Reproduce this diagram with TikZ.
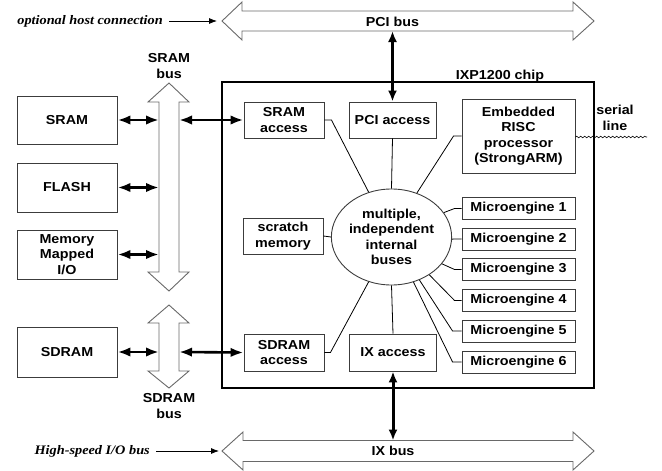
\documentclass[tikz,border=0pt]{standalone}
\usepackage{fontspec}
\setmainfont{Liberation Sans}[FakeStretch=1.1]
\newfontfamily\myserif{Liberation Serif}[FakeStretch=1.1]
\usetikzlibrary{arrows.meta,shapes.geometric,decorations.pathmorphing}
\definecolor{boxgray}{RGB}{60,60,60}
\definecolor{busgray}{RGB}{105,105,105}
\newcommand\mylbl{\fontsize{13}{15.5}\selectfont\bfseries}
\newcommand\myital{\fontsize{13}{15}\selectfont\myserif\bfseries\itshape}
\tikzset{
  box/.style={draw=boxgray, line width=0.9pt, inner sep=0pt, align=center, font=\mylbl},
  mebox/.style={box, minimum width=113pt, minimum height=22pt},
  lbl/.style={inner sep=0pt, align=center, font=\mylbl},
  hollow/.style={draw=busgray, line width=0.9pt, fill=white, line join=miter},
  thick2/.style={line width=3pt, {Latex[length=11pt,width=9pt]}-{Latex[length=11pt,width=9pt]}},
  memarrow/.style={line width=2.6pt, {Latex[length=13pt,width=9.5pt]}-{Latex[length=13pt,width=9.5pt]}},
  thinarrow/.style={line width=0.8pt, -{Latex[length=8pt,width=6pt]}},
  wire/.style={line width=0.8pt, black},
}
\begin{document}
\begin{tikzpicture}[x=1pt,y=-1pt]
\useasboundingbox (0,0) rectangle (662,471);

% chip
\node[draw, line width=2pt, minimum width=372pt, minimum height=306pt, inner sep=0pt] (chip) at (408,235) {};
\node[lbl, anchor=base] (chiplbl) at (500,79) {IXP1200 chip};

% hollow buses
\draw[hollow] (222,21) -- (242,2) -- (242,11) -- (573,11) -- (573,2) -- (594,21) -- (573,40) -- (573,31) -- (242,31) -- (242,40) -- cycle;
\node[lbl] (pcibus) at (392.5,22) {PCI bus};
\draw[hollow] (222,451) -- (243,432) -- (243,440.5) -- (573,440.5) -- (573,432) -- (594,451) -- (573,470) -- (573,461.5) -- (243,461.5) -- (243,470) -- cycle;
\node[lbl] (ixbus) at (393,451) {IX bus};
\draw[hollow] (169,83) -- (189,102) -- (179,102) -- (179,272) -- (189,272) -- (169,291) -- (148,272) -- (159,272) -- (159,102) -- (148,102) -- cycle;
\node[lbl] (srambus) at (169,66) {SRAM\\bus};
\draw[hollow] (169,305) -- (189,323) -- (179,323) -- (179,371) -- (189,371) -- (169,388) -- (148,371) -- (159,371) -- (159,323) -- (148,323) -- cycle;
\node[lbl] (sdrambus) at (169,406) {SDRAM\\bus};

% external memories
\node[box, minimum width=100pt, minimum height=48pt] (sram) at (67,120) {SRAM};
\node[box, minimum width=100pt, minimum height=49pt] (flash) at (67,187.5) {FLASH};
\node[box, minimum width=100pt, minimum height=49pt] (mmio) at (67,254.5) {Memory\\Mapped\\I/O};
\node[box, minimum width=100pt, minimum height=50pt] (sdram) at (67,352) {SDRAM};

% internal units
\node[box, minimum width=80pt, minimum height=36pt] (sramacc) at (284,120) {SRAM\\access};
\node[box, minimum width=80pt, minimum height=36pt] (scratch) at (283,236) {scratch\\memory};
\node[box, minimum width=80pt, minimum height=37pt] (sdramacc) at (284,352.5) {SDRAM\\access};
\node[box, minimum width=87pt, minimum height=36pt] (pciacc) at (392.5,120) {PCI access};
\node[box, minimum width=87pt, minimum height=37pt] (ixacc) at (393,352.5) {IX access};
\node[box, minimum width=113pt, minimum height=74pt] (emb) at (518.5,136) {Embedded\\RISC\\processor\\(StrongARM)};
\node[mebox] (me1) at (518.5,208.5) {Microengine 1};
\node[mebox] (me2) at (518.5,239) {Microengine 2};
\node[mebox] (me3) at (518.5,269.5) {Microengine 3};
\node[mebox] (me4) at (518.5,300.5) {Microengine 4};
\node[mebox] (me5) at (518.5,331) {Microengine 5};
\node[mebox] (me6) at (518.5,362) {Microengine 6};
\node[ellipse, draw=boxgray, line width=0.9pt, minimum width=106pt, minimum height=96pt, inner sep=0pt, align=center, font=\mylbl] (c) at (391.5,237) {multiple,\\independent\\internal\\buses};

% internal wires
\draw[wire] (sramacc.east) -- ++(7,0) -- (c.117);
\draw[wire] (pciacc.south) -- (c.north);
\draw[wire] (emb.west) -- ++(-8,0) -- (c.60);
\draw[wire] (scratch.east) -- (c.west);
\draw[wire] (me1.west) -- ++(-7,0) -- (c.25);
\draw[wire] (me2.west) -- (c.-2);
\draw[wire] (me3.west) -- ++(-7,0) -- (c.-28);
\draw[wire] (me4.west) -- ++(-7,0) -- (c.-45);
\draw[wire] (me5.west) -- ++(-9,0) -- (c.-57);
\draw[wire] (me6.west) -- ++(-9,0) -- (c.-64);
\draw[wire] (sdramacc.east) -- ++(6,0) -- (c.-117);
\draw[wire] (ixacc.north) -- (c.south);

% bus connection points
\coordinate (pcib) at (392.5,31);
\coordinate (ixb) at (393,440.5);
\coordinate (sramL) at (159,120);
\coordinate (sramR) at (179,120);
\coordinate (flashL) at (159,187.5);
\coordinate (mmioL) at (159,254.5);
\coordinate (sdramL) at (159,352);
\coordinate (sdramR) at (179,352);

\draw[thick2] (pcib) -- (pciacc.north);
\draw[thick2] (ixacc.south) -- (ixb);
\draw[memarrow] (sram.east) -- (sramL);
\draw[memarrow] (sramR) -- (sramacc.west);
\draw[memarrow] (flash.east) -- (flashL);
\draw[memarrow] (mmio.east) -- (mmioL);
\draw[memarrow] (sdram.east) -- (sdramL);
\draw[memarrow] (sdramR) -- (sdramacc.west);

% serial line
\node[lbl] (serial) at (615,118) {serial\\line};
\coordinate (serialend) at (647,137);
\draw[line width=0.6pt, decorate, decoration={snake, amplitude=0.8pt, segment length=4pt}] (emb.east |- serialend) -- (serialend);

% italic annotations
\node[font=\myital, anchor=east, inner sep=0pt] (opt) at (163,21) {optional host connection};
\coordinate (pcitip) at (217,21);
\draw[thinarrow] ([xshift=6pt]opt.east) -- (pcitip);
\node[font=\myital, anchor=east, inner sep=0pt] (hs) at (150,451) {High-speed I/O bus};
\coordinate (ixtip) at (219,451);
\draw[thinarrow] ([xshift=6pt]hs.east) -- (ixtip);
\end{tikzpicture}
\end{document}
